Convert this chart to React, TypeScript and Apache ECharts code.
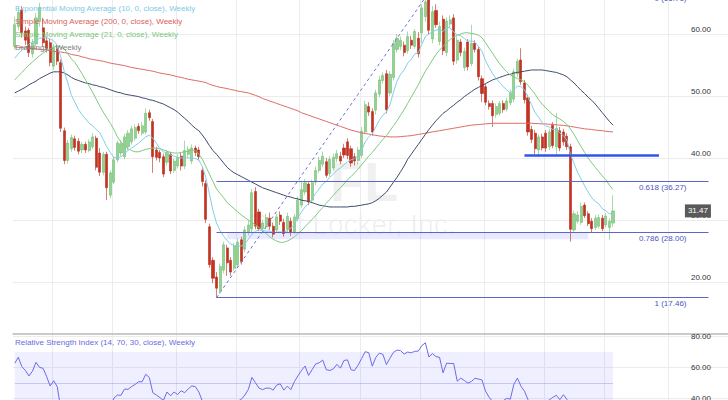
import React, { useEffect, useRef } from "react";
import * as echarts from "echarts";

const FONT = "'Liberation Sans', Arial, Helvetica, sans-serif";
const SHIFT = 30; // chart div starts 30px above the page top

// weekly categories (weeks starting Monday)
const START = Date.UTC(2019, 1, 11);
const WEEK_COUNT = 202;
const weeks: string[] = [];
const quarterWeeks: number[] = [];
for (let k = 0; k < WEEK_COUNT; k++) {
  const t = START + k * 7 * 86400000;
  weeks.push(new Date(t).toISOString().slice(0, 10));
  for (let j = 0; j < 7; j++) {
    const e = new Date(t + j * 86400000);
    if (e.getUTCDate() === 1 && [0, 4, 8].includes(e.getUTCMonth())) quarterWeeks.push(k);
  }
}

// [open, close, low, high]
const candles: number[][] = [
  // 0-9
  [58.0, 61.5, 57.5, 62.8], [61.2, 63.5, 60.6, 64.4], [63.9, 60.2, 59.4, 64.5], [60.5, 59.0, 58.2, 61.2], [60.6, 57.0, 56.3, 61.0],
  [56.8, 58.6, 56.2, 59.2], [58.4, 62.6, 58.0, 63.4], [62.0, 64.3, 61.2, 65.0], [61.0, 58.6, 57.9, 62.6], [58.9, 57.7, 57.0, 59.6],
  // 10-19
  [58.6, 55.4, 54.8, 59.2], [54.8, 57.8, 54.2, 58.4], [57.6, 55.6, 55.0, 58.2], [55.4, 44.8, 44.2, 55.9], [44.4, 39.6, 39.0, 44.9],
  [39.6, 42.4, 39.1, 42.9], [41.5, 43.3, 41.0, 43.8], [43.1, 41.7, 41.2, 43.6], [42.7, 41.1, 40.6, 43.2], [41.3, 42.2, 40.8, 42.6],
  // 20-29
  [42.2, 41.3, 40.8, 42.6], [41.2, 42.6, 40.9, 43.0], [41.8, 43.4, 41.4, 44.0], [43.2, 38.5, 38.0, 43.6], [40.8, 37.7, 37.1, 41.6],
  [37.7, 40.6, 37.2, 41.0], [40.6, 35.2, 33.2, 41.0], [34.0, 37.6, 33.5, 38.0], [36.1, 39.7, 35.8, 40.2], [39.7, 42.4, 39.3, 42.8],
  // 30-39
  [40.8, 42.3, 40.3, 42.9], [40.2, 43.4, 39.8, 43.9], [41.8, 44.0, 41.3, 44.5], [42.6, 44.7, 42.2, 45.2], [43.2, 44.9, 42.8, 45.4],
  [45.1, 44.4, 43.9, 45.6], [44.0, 45.2, 43.6, 45.8], [44.2, 47.2, 43.8, 48.0], [47.3, 46.5, 46.0, 47.8], [45.9, 40.2, 37.6, 46.3],
  // 40-49
  [41.3, 40.1, 39.6, 41.8], [40.9, 40.0, 39.3, 41.3], [40.2, 37.4, 36.9, 40.7], [39.3, 40.9, 38.8, 41.3], [40.6, 37.9, 37.4, 41.0],
  [38.0, 39.5, 37.6, 39.9], [38.7, 40.1, 38.3, 40.6], [40.3, 38.7, 38.0, 40.8], [38.7, 41.2, 38.2, 42.8], [40.6, 41.4, 40.1, 41.9],
  // 50-59
  [39.5, 41.6, 39.0, 42.2], [41.6, 40.9, 40.3, 42.0], [41.3, 40.2, 39.6, 41.8], [38.0, 36.2, 35.4, 38.6], [35.9, 30.1, 29.5, 36.4],
  [28.9, 22.8, 22.3, 29.4], [23.5, 20.6, 19.8, 24.0], [20.8, 19.0, 17.46, 21.6], [18.6, 22.5, 18.1, 23.0], [21.9, 26.0, 21.4, 26.5],
  // 60-69
  [25.5, 23.1, 21.0, 26.0], [23.5, 21.6, 21.0, 24.0], [22.2, 25.8, 21.8, 26.3], [22.8, 26.4, 22.3, 27.0], [26.8, 23.3, 22.8, 27.3],
  [25.3, 28.4, 24.8, 29.0], [28.0, 29.2, 27.5, 30.0], [28.6, 34.4, 28.0, 35.0], [34.6, 29.0, 28.5, 35.3], [31.3, 28.6, 28.2, 31.8],
  // 70-79
  [28.6, 29.5, 28.2, 30.0], [28.9, 30.4, 28.5, 31.0], [30.3, 29.0, 28.4, 31.2], [29.0, 27.7, 27.2, 29.6], [28.4, 30.5, 28.0, 31.0],
  [30.8, 29.8, 29.2, 31.4], [29.6, 27.8, 27.3, 30.2], [28.5, 30.6, 28.0, 31.2], [29.8, 28.0, 27.4, 30.4], [28.0, 30.5, 27.7, 31.0],
  // 80-89
  [30.2, 33.2, 29.8, 33.8], [32.4, 34.9, 32.0, 36.2], [34.5, 36.0, 34.0, 36.6], [35.8, 32.9, 32.4, 36.3], [33.2, 36.0, 32.7, 36.5],
  [36.1, 38.0, 35.6, 38.6], [38.0, 39.6, 37.6, 40.2], [39.0, 40.3, 38.5, 41.0], [39.4, 37.2, 36.8, 40.0], [37.5, 39.8, 37.0, 40.3],
  // 90-99
  [38.4, 40.1, 38.0, 40.7], [39.9, 40.7, 39.3, 41.3], [40.3, 39.5, 39.0, 41.0], [41.6, 40.5, 40.0, 42.3], [42.6, 40.4, 39.8, 43.2],
  [41.5, 39.2, 38.6, 42.0], [40.2, 39.5, 38.8, 40.8], [39.6, 41.3, 39.0, 41.8], [40.4, 44.3, 40.0, 45.0], [44.2, 48.6, 43.8, 49.2],
  // 100-109
  [48.3, 47.4, 46.8, 49.0], [47.5, 44.2, 43.6, 48.0], [47.7, 50.5, 47.0, 51.0], [50.3, 52.6, 49.8, 53.2], [52.5, 53.3, 52.0, 53.8],
  [53.6, 47.8, 47.2, 54.2], [50.5, 53.5, 50.0, 54.0], [53.0, 58.5, 52.5, 59.0], [57.5, 59.3, 57.0, 60.0], [58.0, 59.0, 57.4, 59.6],
  // 110-119
  [58.2, 57.0, 56.4, 58.8], [57.3, 59.6, 56.8, 60.4], [59.0, 58.2, 57.6, 59.7], [58.0, 60.4, 57.6, 60.8], [59.3, 56.8, 56.2, 60.3],
  [60.2, 64.2, 58.5, 64.8], [62.8, 65.2, 62.0, 65.9], [65.5, 60.6, 60.0, 66.71], [59.2, 63.6, 58.5, 64.5], [63.8, 61.5, 61.0, 64.8],
  // 120-129
  [58.8, 61.2, 58.2, 62.0], [62.4, 57.3, 56.6, 63.0], [57.0, 62.1, 56.4, 62.7], [61.6, 62.3, 61.0, 63.0], [62.6, 55.6, 55.0, 63.2],
  [55.8, 59.0, 55.2, 59.6], [58.7, 57.0, 56.4, 59.2], [54.6, 57.2, 54.0, 57.8], [58.7, 54.7, 54.1, 59.2], [55.2, 58.5, 54.8, 61.5],
  // 130-139
  [58.5, 57.5, 57.0, 59.0], [57.5, 53.1, 52.5, 58.0], [52.8, 50.4, 49.0, 53.3], [51.5, 49.0, 48.5, 52.0], [48.8, 48.3, 47.8, 49.3],
  [48.8, 46.8, 45.0, 49.3], [47.0, 48.3, 46.5, 48.8], [47.2, 48.8, 46.8, 49.2], [48.8, 47.8, 47.3, 49.3], [47.9, 49.2, 47.5, 49.7],
  // 140-149
  [48.9, 50.5, 48.5, 51.0], [49.5, 53.9, 49.0, 54.4], [53.6, 55.6, 53.0, 56.0], [55.8, 52.3, 51.8, 57.7], [52.1, 49.4, 48.8, 52.6],
  [49.7, 44.2, 43.6, 50.2], [44.6, 43.0, 42.4, 45.2], [44.0, 41.5, 40.6, 44.5], [41.3, 43.4, 40.2, 43.8], [43.4, 41.6, 41.2, 43.9],
  // 150-159
  [44.0, 41.6, 41.0, 44.5], [41.8, 44.2, 41.3, 44.7], [45.3, 42.0, 41.6, 45.8], [41.8, 44.8, 40.3, 47.3], [44.4, 41.6, 41.1, 45.0],
  [44.2, 42.6, 42.0, 44.7], [43.5, 41.8, 41.3, 44.0], [41.8, 28.5, 26.5, 42.3], [28.4, 31.0, 28.0, 31.5], [29.8, 30.8, 29.4, 31.4],
  // 160-169
  [29.6, 32.2, 29.2, 32.8], [32.4, 30.7, 30.3, 32.8], [31.0, 29.4, 29.0, 31.4], [29.8, 28.6, 28.0, 30.3], [28.8, 30.3, 28.4, 30.8],
  [29.0, 30.4, 28.6, 30.9], [30.3, 28.6, 28.2, 30.8], [29.2, 30.6, 28.8, 31.1], [28.8, 29.8, 26.8, 30.3], [29.5, 31.47, 28.9, 34.0],
];

const ema10 = [
  56.1, 56.8, 57.4, 57.8, 58.4, 58.7, 59.0, 59.3, 59.4, 59.4,
  59.2, 58.9, 58.2, 56.3, 53.9, 52.1, 50.1, 49.0, 47.8, 47.0,
  46.3, 45.6, 45.2, 44.6, 44.1, 43.0, 41.8, 40.9, 40.1, 40.0,
  40.2, 40.7, 41.2, 41.6, 42.0, 42.4, 42.9, 43.4, 43.7, 43.2,
  42.4, 41.5, 41.0, 40.8, 40.5, 40.3, 40.1, 40.0, 40.0, 40.0,
  40.0, 39.9, 39.7, 38.6, 36.8, 34.2, 31.5, 29.5, 28.3, 27.4,
  26.7, 26.1, 25.9, 25.8, 25.8, 26.1, 26.9, 27.7, 28.2, 28.4,
  28.3, 28.2, 28.2, 28.0, 28.0, 28.1, 28.0, 28.3, 28.7, 29.3,
  30.4, 31.3, 32.1, 32.6, 33.4, 34.3, 35.0, 35.8, 36.2, 36.9,
  37.4, 38.0, 38.4, 38.9, 39.4, 39.7, 39.9, 40.4, 41.2, 42.6,
  43.4, 43.9, 45.0, 46.1, 46.9, 47.4, 48.6, 50.6, 52.4, 53.5,
  54.2, 55.3, 55.9, 56.8, 57.0, 58.3, 59.6, 60.0, 60.4, 60.6,
  60.8, 60.4, 61.1, 61.0, 60.3, 59.9, 59.7, 59.3, 58.8, 58.9,
  58.7, 58.0, 57.2, 55.7, 54.6, 53.6, 52.8, 52.2, 51.5, 51.0,
  50.5, 51.0, 51.6, 51.5, 51.0, 49.8, 48.6, 47.3, 46.6, 45.7,
  45.2, 45.0, 44.6, 44.6, 44.0, 43.6, 42.9, 40.6, 39.1, 37.7,
  36.6, 35.5, 34.5, 33.6, 33.0, 32.6, 31.8, 31.5, 31.0, 31.1,
];

const sma200 = [
  57.9, 57.85, 57.8, 57.75, 57.7, 57.65, 57.6, 57.5, 57.45, 57.4,
  57.3, 57.2, 57.15, 57.1, 57.0, 56.9, 56.7, 56.6, 56.5, 56.3,
  56.2, 56.0, 55.9, 55.8, 55.7, 55.6, 55.45, 55.3, 55.2, 55.1,
  55.0, 54.9, 54.75, 54.6, 54.5, 54.4, 54.3, 54.2, 54.1, 54.0,
  53.85, 53.7, 53.6, 53.5, 53.4, 53.25, 53.1, 53.0, 52.85, 52.7,
  52.6, 52.5, 52.4, 52.3, 52.15, 51.9, 51.7, 51.55, 51.4, 51.3,
  51.2, 51.05, 50.95, 50.8, 50.7, 50.6, 50.5, 50.3, 50.1, 49.9,
  49.6, 49.4, 49.2, 49.0, 48.8, 48.6, 48.4, 48.2, 48.0, 47.8,
  47.6, 47.3, 47.1, 46.9, 46.7, 46.5, 46.3, 46.1, 45.9, 45.7,
  45.5, 45.3, 45.1, 44.9, 44.7, 44.5, 44.35, 44.2, 44.05, 43.95,
  43.85, 43.75, 43.65, 43.55, 43.5, 43.45, 43.4, 43.4, 43.4, 43.45,
  43.5, 43.55, 43.6, 43.7, 43.8, 43.9, 44.0, 44.1, 44.2, 44.3,
  44.4, 44.5, 44.6, 44.7, 44.8, 44.9, 45.0, 45.1, 45.2, 45.3,
  45.35, 45.4, 45.45, 45.5, 45.55, 45.6, 45.6, 45.6, 45.6, 45.6,
  45.6, 45.6, 45.6, 45.6, 45.6, 45.6, 45.6, 45.55, 45.55, 45.5,
  45.5, 45.45, 45.4, 45.35, 45.3, 45.25, 45.2, 45.1, 45.0, 44.9,
  44.8, 44.7, 44.65, 44.6, 44.5, 44.45, 44.4, 44.3, 44.25, 44.2,
];

const sma21 = [
  52.6, 53.2, 53.8, 54.4, 55.0, 55.5, 56.0, 56.5, 56.9, 57.3,
  57.6, 57.9, 58.0, 57.9, 57.6, 56.8, 56.0, 55.4, 54.5, 53.6,
  52.6, 51.6, 50.6, 49.5, 48.4, 47.4, 46.5, 45.6, 44.6, 43.4,
  42.6, 42.0, 41.5, 41.2, 41.0, 41.0, 41.2, 41.4, 41.5, 41.6,
  41.6, 41.5, 41.3, 41.1, 40.9, 40.8, 40.8, 40.9, 41.0, 41.1,
  41.3, 41.2, 40.6, 39.8, 38.6, 37.4, 36.2, 35.0, 34.3, 33.6,
  32.8, 32.3, 31.8, 31.3, 30.8, 30.4, 30.0, 29.6, 29.2, 28.8,
  28.3, 27.8, 27.3, 26.9, 26.6, 26.4, 26.4, 26.6, 26.9, 27.3,
  27.8, 28.3, 28.9, 29.5, 30.1, 30.7, 31.4, 32.0, 32.7, 33.3,
  34.0, 34.6, 35.2, 35.8, 36.5, 37.0, 37.6, 38.2, 38.9, 39.6,
  40.3, 40.9, 41.6, 42.3, 43.0, 43.6, 44.4, 45.2, 46.0, 46.9,
  47.8, 48.8, 49.8, 50.8, 51.8, 52.9, 54.0, 54.9, 55.8, 56.7,
  57.4, 58.0, 58.6, 59.1, 59.5, 59.8, 60.0, 60.2, 60.2, 60.1,
  60.0, 59.8, 59.4, 58.6, 57.7, 56.9, 56.0, 55.2, 54.5, 53.9,
  53.4, 53.1, 52.8, 52.6, 52.3, 51.7, 51.0, 50.3, 49.4, 48.7,
  48.1, 47.5, 47.0, 46.6, 46.3, 45.9, 45.4, 44.7, 43.8, 42.8,
  41.8, 40.9, 40.0, 39.2, 38.5, 37.8, 37.1, 36.5, 35.6, 34.9,
];

const navyAvg = [
  50.5, 50.8, 51.1, 51.4, 51.8, 52.1, 52.4, 52.8, 53.1, 53.4,
  53.7, 53.9, 53.9, 53.9, 53.7, 53.4, 53.0, 52.7, 52.5, 52.3,
  52.1, 52.0, 51.8, 51.7, 51.5, 51.4, 51.2, 51.0, 50.8, 50.6,
  50.5, 50.3, 50.2, 50.1, 50.0, 49.9, 49.7, 49.6, 49.4, 49.3,
  49.1, 48.9, 48.7, 48.4, 48.1, 47.8, 47.4, 46.9, 46.4, 45.9,
  45.3, 44.8, 44.4, 43.7, 42.9, 42.0, 41.2, 40.6, 39.9, 39.2,
  38.5, 38.0, 37.6, 37.3, 37.0, 36.7, 36.4, 36.1, 35.8, 35.5,
  35.2, 35.0, 34.8, 34.6, 34.4, 34.2, 34.0, 33.8, 33.7, 33.5,
  33.4, 33.2, 33.1, 33.0, 32.8, 32.6, 32.4, 32.3, 32.2, 32.1,
  32.1, 32.1, 32.1, 32.1, 32.1, 32.2, 32.2, 32.3, 32.4, 32.5,
  32.6, 32.8, 33.1, 33.5, 34.0, 34.5, 35.3, 36.1, 36.9, 37.8,
  38.7, 39.8, 40.6, 41.4, 42.2, 43.0, 43.8, 44.6, 45.3, 46.0,
  46.6, 47.2, 47.6, 48.1, 48.5, 49.0, 49.4, 49.9, 50.3, 50.7,
  51.1, 51.4, 51.7, 52.0, 52.3, 52.6, 52.8, 53.0, 53.2, 53.4,
  53.5, 53.7, 53.8, 53.9, 54.0, 54.1, 54.2, 54.2, 54.2, 54.2,
  54.1, 54.0, 53.9, 53.8, 53.6, 53.4, 53.1, 52.6, 52.1, 51.5,
  50.9, 50.4, 49.8, 49.3, 48.7, 48.0, 47.3, 46.6, 45.9, 45.3,
];

const rsi14 = [
  62.7, 66.6, 60.5, 58.0, 54.4, 57.5, 63.3, 60.0, 59.4, 54.0,
  47.9, 51.3, 47.4, 33.0, 27.0, 34.0, 36.0, 35.0, 34.5, 35.5,
  35.0, 36.0, 37.0, 32.0, 30.0, 33.5, 27.0, 33.0, 40.0, 42.0,
  41.8, 45.9, 45.7, 47.5, 48.9, 50.7, 50.7, 55.5, 53.5, 43.5,
  42.0, 40.3, 38.5, 44.0, 41.5, 44.0, 42.3, 44.8, 43.5, 46.0,
  47.9, 47.5, 44.0, 38.0, 30.0, 21.0, 20.0, 19.5, 27.0, 32.0,
  30.0, 28.5, 35.0, 38.0, 39.2, 42.0, 45.7, 53.5, 50.0, 46.5,
  45.5, 46.5, 46.5, 45.2, 48.5, 49.3, 45.2, 47.8, 45.5, 50.7,
  54.5, 58.0, 60.9, 54.8, 58.5, 62.2, 63.0, 64.8, 58.5, 58.0,
  59.0, 62.0, 59.5, 64.5, 64.9, 58.5, 58.0, 61.5, 65.8, 70.2,
  69.6, 60.8, 66.5, 69.3, 68.5, 61.8, 66.0, 69.8, 71.3, 70.9,
  68.7, 70.0, 69.5, 70.5, 70.6, 74.2, 76.0, 66.8, 69.0, 67.0,
  66.6, 56.5, 62.8, 62.5, 62.6, 51.0, 53.0, 51.5, 49.8, 50.8,
  52.9, 52.4, 51.8, 44.5, 40.6, 37.8, 37.0, 38.0, 38.4, 39.8,
  39.3, 49.0, 53.0, 47.8, 44.5, 39.0, 36.0, 34.5, 37.0, 36.0,
  37.5, 38.8, 40.5, 41.8, 39.0, 42.2, 39.2, 22.0, 30.0, 30.5,
  33.0, 31.5, 30.0, 29.0, 31.0, 31.2, 29.5, 31.5, 31.0, 35.0,
];

// drawings
const FIB_RATIOS = ["0", "0.618", "0.786", "1"];
const FIB_VALUES = [66.71, 36.27, 28.0, 17.46];
const FIB_FROM = 57;
const FIB_TO = 196;
const TREND = [[57, 17.46], [117, 66.71]];
const SUPPORT = { from: 144, to: 182, value: 40.4 };
const BAND = { from: 60, to: 162, top: 28.0, bottom: 26.9 };

const LEGEND = [
  { text: "Exponential Moving Average (10, 0, close), Weekly", color: "#7cc9e6" },
  { text: "Simple Moving Average (200, 0, close), Weekly", color: "#d9625d" },
  { text: "Simple Moving Average (21, 0, close), Weekly", color: "#7cc57c" },
  { text: "Drawings - Weekly", color: "#808080" },
];

export default function App() {
  const ref = useRef<HTMLDivElement>(null);
  useEffect(() => {
    if (!ref.current) return;
    const chart = echarts.init(ref.current, null, { renderer: "svg" });
    const last = candles[candles.length - 1][1];
    const lineSeries = (name: string, data: number[], color: string) => ({
      name,
      type: "line",
      xAxisIndex: 0,
      yAxisIndex: 0,
      data,
      symbol: "none",
      silent: true,
      lineStyle: { color, width: 1 },
      z: 3,
    });
    const option: any = {
      animation: false,
      backgroundColor: "#ffffff",
      textStyle: { fontFamily: FONT },
      grid: [
        { left: 13, right: 0, top: SHIFT - 20, height: 354, outerBoundsMode: "none" },
        { left: 13, right: 0, top: SHIFT + 334, height: 125.5, outerBoundsMode: "none" },
      ],
      xAxis: [0, 1].map((g) => ({
        type: "category",
        gridIndex: g,
        data: weeks,
        boundaryGap: true,
        axisLine: { show: g === 0, lineStyle: { color: "#b9b9b9", width: 1.5 } },
        axisTick: { show: false },
        axisLabel: { show: false },
        splitLine: {
          show: true,
          interval: (i: number) => quarterWeeks.includes(i),
          lineStyle: { color: "#ececec", width: 1 },
        },
      })),
      yAxis: [
        {
          type: "value",
          gridIndex: 0,
          position: "right",
          min: 11.61,
          max: 68.71,
          splitNumber: 5,
          axisLine: { show: false },
          axisTick: { show: false },
          axisLabel: {
            inside: true,
            margin: 17,
            verticalAlign: "bottom",
            fontSize: 8,
            color: "#333",
            showMinLabel: false,
            showMaxLabel: false,
            formatter: (v: number) => v.toFixed(2),
          },
          splitLine: { lineStyle: { color: "#ececec" }, showMinLine: false, showMaxLine: false },
        },
        {
          type: "value",
          gridIndex: 1,
          position: "right",
          min: 0,
          max: 81.76,
          interval: 20,
          axisLine: { show: false },
          axisTick: { show: false },
          axisLabel: {
            inside: true,
            margin: 17,
            verticalAlign: "middle",
            fontSize: 8,
            color: "#333",
            showMinLabel: false,
            showMaxLabel: false,
            formatter: (v: number) => v.toFixed(2),
          },
          splitLine: { lineStyle: { color: "#ececec" }, showMinLine: false, showMaxLine: false },
        },
      ],
      graphic: [
        {
          type: "text",
          x: 364,
          y: SHIFT + 181,
          z: 0,
          silent: true,
          style: {
            text: "FL",
            fontSize: 56,
            fontWeight: "bold",
            fontFamily: FONT,
            fill: "rgba(0,0,0,0.06)",
            align: "center",
            verticalAlign: "middle",
          },
        },
        {
          type: "text",
          x: 352,
          y: SHIFT + 224,
          z: 0,
          silent: true,
          style: {
            text: "Foot Locker, Inc.",
            fontSize: 28,
            fontFamily: FONT,
            fill: "rgba(0,0,0,0.06)",
            align: "center",
            verticalAlign: "middle",
          },
        },
        ...LEGEND.map((l, k) => ({
          type: "text",
          x: 15,
          y: SHIFT + 8 + k * 13.2,
          z: 100,
          silent: true,
          style: { text: l.text, fontSize: 8, fontFamily: FONT, fill: l.color, verticalAlign: "middle" },
        })),
        {
          type: "text",
          x: 15,
          y: SHIFT + 342,
          z: 100,
          silent: true,
          style: {
            text: "Relative Strength Index (14, 70, 30, close), Weekly",
            fontSize: 8,
            fontFamily: FONT,
            fill: "#6a6adf",
            verticalAlign: "middle",
          },
        },
      ],
      series: [
        {
          name: "FL",
          type: "candlestick",
          xAxisIndex: 0,
          yAxisIndex: 0,
          data: candles,
          barWidth: 2.6,
          silent: true,
          itemStyle: {
            color: "#92d292",
            color0: "#c8301f",
            borderColor: "#72bd72",
            borderColor0: "#b52a1a",
            borderWidth: 0.6,
          },
          z: 2,
          markArea: {
            silent: true,
            itemStyle: { color: "rgba(120,120,255,0.16)" },
            data: [[{ coord: [BAND.from, BAND.top] }, { coord: [BAND.to, BAND.bottom] }]],
          },
          markLine: {
            silent: true,
            symbol: ["none", "none"],
            animation: false,
            lineStyle: { color: "#5b66c6", width: 1, type: "solid" },
            label: {
              show: true,
              position: "insideEndBottom",
              distance: [22, 2],
              formatter: "{b}",
              fontSize: 8,
              color: "#4b57bd",
              fontFamily: FONT,
            },
            data: [
              ...FIB_VALUES.map((v, k) => [
                { name: `${FIB_RATIOS[k]} (${v.toFixed(2)})`, coord: [FIB_FROM, v] },
                { coord: [FIB_TO, v] },
              ]),
              [
                {
                  coord: TREND[0],
                  label: { show: false },
                  lineStyle: { color: "#6f6fd8", type: [3, 3], width: 1 },
                },
                { coord: TREND[1] },
              ],
              [
                {
                  coord: [SUPPORT.from, SUPPORT.value],
                  label: { show: false },
                  lineStyle: { color: "#2f55ec", width: 2.5, type: "solid" },
                },
                { coord: [SUPPORT.to, SUPPORT.value] },
              ],
            ],
          },
          markPoint: {
            silent: true,
            symbol: "rect",
            symbolSize: [26, 13],
            itemStyle: { color: "#5a5a5a" },
            label: { show: true, color: "#fff", fontSize: 8, fontFamily: FONT, formatter: last.toFixed(2) },
            data: [{ coord: [193, last], value: last }],
          },
        },
        lineSeries("SMA 200", sma200, "#df6a65"),
        lineSeries("Avg", navyAvg, "#3d4b6c"),
        lineSeries("SMA 21", sma21, "#80c880"),
        lineSeries("EMA 10", ema10, "#83cde8"),
        {
          name: "RSI",
          type: "line",
          xAxisIndex: 1,
          yAxisIndex: 1,
          data: rsi14,
          symbol: "none",
          silent: true,
          lineStyle: { color: "#6b6bea", width: 1 },
          markArea: {
            silent: true,
            itemStyle: { color: "rgba(125,125,255,0.12)" },
            data: [[{ coord: [0, 70] }, { coord: [rsi14.length - 1, 30] }]],
          },
          markLine: {
            silent: true,
            symbol: ["none", "none"],
            label: { show: false },
            lineStyle: { color: "rgba(120,120,235,0.35)", width: 1, type: "solid" },
            data: [[{ coord: [0, 50] }, { coord: [rsi14.length - 1, 50] }]],
          },
        },
      ],
    };
    chart.setOption(option);
    return () => chart.dispose();
  }, []);
  return (
    <div
      ref={ref}
      style={{ position: "fixed", left: 0, top: -SHIFT, width: 728, height: 520, background: "#fff" }}
    />
  );
}
